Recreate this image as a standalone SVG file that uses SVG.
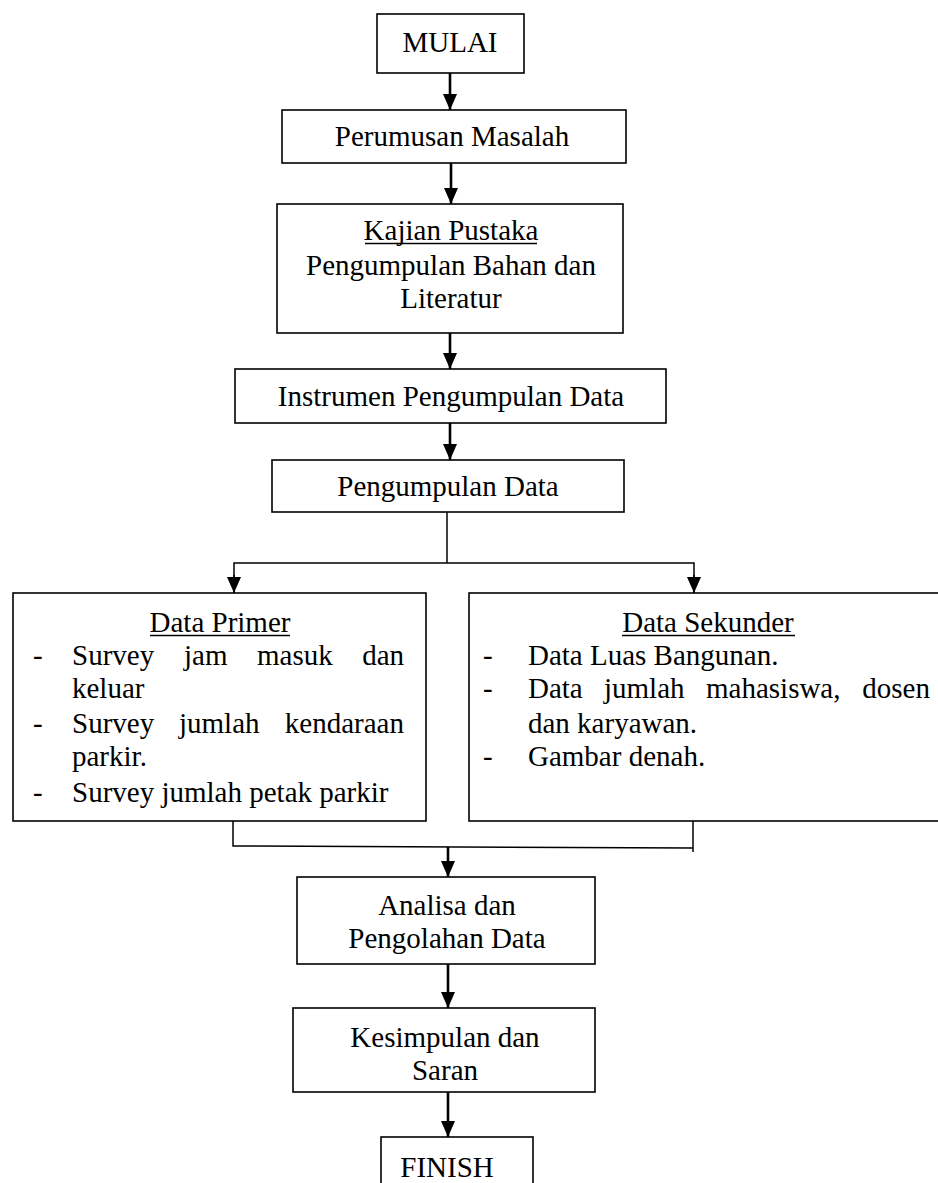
<svg xmlns="http://www.w3.org/2000/svg" width="938" height="1183" viewBox="0 0 938 1183">
<style>
.box{fill:#fff;stroke:#000;stroke-width:1.6}
.t{font-family:"Liberation Serif","Times New Roman",serif;font-size:29px;fill:#000}
.c{text-anchor:middle}
.e{text-anchor:end}
.ul{stroke:#000;stroke-width:1.5}
.arr{stroke:#000;stroke-width:2.6;fill:none}
.thin{stroke:#000;stroke-width:1.5;fill:none}
</style>
<defs>
<marker id="ah" markerUnits="userSpaceOnUse" markerWidth="16" markerHeight="14" refX="16" refY="7" orient="auto">
<path d="M0,0 L16,7 L0,14 z" fill="#000"/>
</marker>
</defs>
<rect width="938" height="1183" fill="#fff"/>
<g id="connectors">
<line class="arr" x1="450" y1="73" x2="450" y2="110" marker-end="url(#ah)"/>
<line class="arr" x1="451" y1="163" x2="451" y2="204" marker-end="url(#ah)"/>
<line class="arr" x1="450" y1="333" x2="450" y2="369" marker-end="url(#ah)"/>
<line class="arr" x1="450" y1="423" x2="450" y2="460" marker-end="url(#ah)"/>
<polyline class="thin" points="447,512 447,563"/>
<polyline class="thin" points="234,593 234,563 694,563 694,593"/>
<line class="thin" x1="234" y1="575" x2="234" y2="593" marker-end="url(#ah)"/>
<line class="thin" x1="694" y1="575" x2="694" y2="593" marker-end="url(#ah)"/>
<polyline class="thin" points="233,821 233,846 693,848"/>
<line class="thin" x1="693" y1="821" x2="693" y2="852"/>
<line class="arr" x1="448" y1="847" x2="448" y2="877" marker-end="url(#ah)"/>
<line class="arr" x1="448" y1="964" x2="448" y2="1008" marker-end="url(#ah)"/>
<line class="arr" x1="448" y1="1092" x2="448" y2="1137" marker-end="url(#ah)"/>
</g>
<g id="mulai">
<rect class="box" x="377" y="14" width="147" height="59"/>
<text class="t c" x="450" y="52">MULAI</text>
</g>
<g id="perumusan">
<rect class="box" x="282" y="110" width="344" height="53"/>
<text class="t c" x="452" y="146">Perumusan Masalah</text>
</g>
<g id="kajian">
<rect class="box" x="277" y="204" width="346" height="129"/>
<text class="t c" x="451" y="240">Kajian Pustaka</text>
<line class="ul" x1="365" y1="243.5" x2="537" y2="243.5"/>
<text class="t c" x="451" y="275">Pengumpulan Bahan dan</text>
<text class="t c" x="451" y="308">Literatur</text>
</g>
<g id="instrumen">
<rect class="box" x="235" y="369" width="431" height="54"/>
<text class="t c" x="451" y="406">Instrumen Pengumpulan Data</text>
</g>
<g id="pengumpulan">
<rect class="box" x="272" y="460" width="352" height="52"/>
<text class="t c" x="448" y="496">Pengumpulan Data</text>
</g>
<g id="data-primer">
<rect class="box" x="13" y="593" width="413" height="228"/>
<text class="t c" x="220" y="632">Data Primer</text>
<line class="ul" x1="150" y1="635.5" x2="290" y2="635.5"/>
<text class="t" x="33" y="665">-</text>
<text class="t" x="72" y="665">Survey</text>
<text class="t" x="184" y="665">jam</text>
<text class="t" x="257" y="665">masuk</text>
<text class="t e" x="404" y="665">dan</text>
<text class="t" x="72" y="698">keluar</text>
<text class="t" x="33" y="733">-</text>
<text class="t" x="72" y="733">Survey</text>
<text class="t" x="179" y="733">jumlah</text>
<text class="t e" x="404" y="733">kendaraan</text>
<text class="t" x="72" y="766">parkir.</text>
<text class="t" x="33" y="802">-</text>
<text class="t" x="72" y="802">Survey jumlah petak parkir</text>
</g>
<g id="data-sekunder">
<rect class="box" x="469" y="593" width="480" height="228"/>
<text class="t c" x="708" y="632">Data Sekunder</text>
<line class="ul" x1="622" y1="635.5" x2="795" y2="635.5"/>
<text class="t" x="483" y="665">-</text>
<text class="t" x="528" y="665">Data Luas Bangunan.</text>
<text class="t" x="483" y="698">-</text>
<text class="t" x="528" y="698">Data</text>
<text class="t" x="604" y="698">jumlah</text>
<text class="t" x="706" y="698">mahasiswa,</text>
<text class="t e" x="930" y="698">dosen</text>
<text class="t" x="528" y="733">dan karyawan.</text>
<text class="t" x="483" y="766">-</text>
<text class="t" x="528" y="766">Gambar denah.</text>
</g>
<g id="analisa">
<rect class="box" x="297" y="877" width="298" height="87"/>
<text class="t c" x="447" y="915">Analisa dan</text>
<text class="t c" x="447" y="948">Pengolahan Data</text>
</g>
<g id="kesimpulan">
<rect class="box" x="293" y="1008" width="302" height="84"/>
<text class="t c" x="445" y="1047">Kesimpulan dan</text>
<text class="t c" x="445" y="1080">Saran</text>
</g>
<g id="finish">
<rect class="box" x="381" y="1137" width="152" height="60"/>
<text class="t c" x="447" y="1177">FINISH</text>
</g>
</svg>
